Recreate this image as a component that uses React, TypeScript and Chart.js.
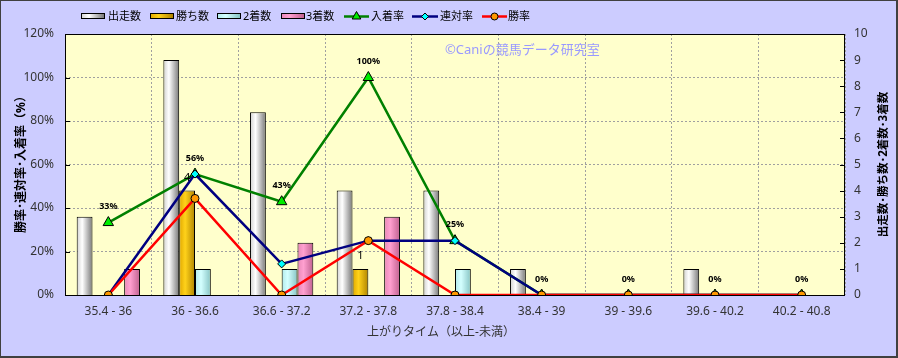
import { useEffect, useRef } from 'react';
import { Chart, registerables } from 'chart.js';

Chart.register(...registerables);

const categories = ['35.4 - 36', '36 - 36.6', '36.6 - 37.2', '37.2 - 37.8', '37.8 - 38.4', '38.4 - 39', '39 - 39.6', '39.6 - 40.2', '40.2 - 40.8'];
const starts = [3, 9, 7, 4, 4, 1, 0, 1, 0];
const wins = [0, 4, 0, 1, 0, 0, 0, 0, 0];
const seconds = [0, 1, 1, 0, 1, 0, 0, 0, 0];
const thirds = [1, 0, 2, 3, 0, 0, 0, 0, 0];
const placeRate = [33.3, 55.6, 42.9, 100, 25, 0, 0, 0, 0];
const quinellaRate = [0, 55.6, 14.3, 25, 25, 0, 0, 0, 0];
const winRate = [0, 44.4, 0, 25, 0, 0, 0, 0, 0];
const placeLabels = ['33%', '56%', '43%', '100%', '25%', '0%', '0%', '0%', '0%'];
const seriesNames = ['出走数', '勝ち数', '2着数', '3着数', '入着率', '連対率', '勝率'];

const FONT = "'Noto Sans', 'Noto Sans CJK JP', sans-serif";
const CAT_PCT = 0.73;

type Stops = [number, string][];
const barStops: Stops[] = [
  [[0, '#d0d0d0'], [0.35, '#ffffff'], [1, '#787878']],
  [[0, '#e0a800'], [0.38, '#ffd21a'], [1, '#b08400']],
  [[0, '#b0eaea'], [0.38, '#d4ffff'], [1, '#86c4c4']],
  [[0, '#e888b8'], [0.38, '#ffa0d0'], [1, '#c0608f']],
];

function makeGrad(ctx: CanvasRenderingContext2D, x0: number, x1: number, stops: Stops) {
  const g = ctx.createLinearGradient(x0, 0, x1, 0);
  stops.forEach(([o, c]) => g.addColorStop(o, c));
  return g;
}

function barBg(k: number) {
  return (c: any) => {
    const chart = c.chart;
    const xs = chart.scales && chart.scales.x;
    if (!xs || c.type !== 'data' || !xs.width) return barStops[k][1][1];
    const catW = xs.width / categories.length;
    const w = (catW * CAT_PCT) / 4;
    const cx = xs.getPixelForValue(c.dataIndex) + (c.datasetIndex - 1.5) * w;
    return makeGrad(chart.ctx, cx - w / 2, cx + w / 2, barStops[k]);
  };
}

function drawMarker(ctx: CanvasRenderingContext2D, style: string, x: number, y: number, r: number, fill: string) {
  ctx.save();
  ctx.beginPath();
  if (style === 'triangle') {
    ctx.moveTo(x, y - r);
    ctx.lineTo(x + r * 0.866, y + r * 0.5);
    ctx.lineTo(x - r * 0.866, y + r * 0.5);
    ctx.closePath();
  } else if (style === 'rectRot') {
    ctx.moveTo(x, y - r);
    ctx.lineTo(x + r, y);
    ctx.lineTo(x, y + r);
    ctx.lineTo(x - r, y);
    ctx.closePath();
  } else {
    ctx.arc(x, y, r, 0, Math.PI * 2);
  }
  ctx.fillStyle = fill;
  ctx.fill();
  ctx.lineWidth = 1;
  ctx.strokeStyle = '#000';
  ctx.stroke();
  ctx.restore();
}

const decorPlugin = {
  id: 'decor',
  beforeDraw(chart: any) {
    const { ctx, chartArea: a, width, height } = chart;
    ctx.save();
    ctx.fillStyle = '#ccccff';
    ctx.fillRect(0, 0, width, height);
    ctx.fillStyle = '#ffffcc';
    ctx.fillRect(a.left, a.top, a.right - a.left, a.bottom - a.top);
    ctx.restore();
  },
  beforeDatasetsDraw(chart: any) {
    const { ctx, chartArea: a, scales } = chart;
    ctx.save();
    ctx.strokeStyle = '#000';
    ctx.lineWidth = 1;
    ctx.strokeRect(Math.round(a.left) + 0.5, Math.round(a.top) + 0.5, Math.round(a.right - a.left) - 1, Math.round(a.bottom - a.top));
    ctx.beginPath();
    scales.y.ticks.forEach((t: any) => {
      const y = Math.round(scales.y.getPixelForValue(t.value)) + 0.5;
      ctx.moveTo(a.left, y);
      ctx.lineTo(a.left + 5, y);
    });
    scales.y1.ticks.forEach((t: any) => {
      const y = Math.round(scales.y1.getPixelForValue(t.value)) + 0.5;
      ctx.moveTo(a.right - 5, y);
      ctx.lineTo(a.right, y);
    });
    ctx.stroke();
    ctx.restore();
  },
  afterDatasetsDraw(chart: any) {
    const { ctx } = chart;
    ctx.save();
    const pm = chart.getDatasetMeta(4);
    ctx.fillStyle = '#000';
    ctx.textAlign = 'center';
    ctx.textBaseline = 'middle';
    ctx.font = `bold 9px ${FONT}`;
    pm.data.forEach((el: any, i: number) => {
      ctx.fillText(placeLabels[i], el.x, el.y - 16);
    });
    const wm = chart.getDatasetMeta(1);
    ctx.font = `11px ${FONT}`;
    wm.data.forEach((el: any, i: number) => {
      if (wins[i] > 0) ctx.fillText(String(wins[i]), el.x, el.y - 13);
    });
    ctx.fillStyle = '#9999ff';
    ctx.font = `13px ${FONT}`;
    ctx.textAlign = 'left';
    ctx.fillText('©Caniの競馬データ研究室', 445, 50);
    ctx.restore();
  },
  afterDraw(chart: any) {
    const { ctx, chartArea: a, width, height } = chart;
    ctx.save();
    const ly = 16.5;
    ctx.textBaseline = 'middle';
    ctx.textAlign = 'left';
    ctx.font = `11px ${FONT}`;
    const boxX = [81, 150, 217, 281];
    const textX = [108, 176, 243, 306];
    for (let k = 0; k < 4; k++) {
      const x = boxX[k];
      ctx.fillStyle = makeGrad(ctx, x, x + 23, barStops[k]);
      ctx.fillRect(x, 14, 23, 5);
      ctx.strokeStyle = '#000';
      ctx.lineWidth = 1;
      ctx.strokeRect(x + 0.5, 13.5, 23, 5);
      ctx.fillStyle = '#000';
      ctx.fillText(seriesNames[k], textX[k], ly);
    }
    const lines = [
      { x0: 344, x1: 369, c: '#008000', s: 'triangle', f: '#00ee00', r: 5, t: 371 },
      { x0: 412, x1: 438, c: '#000080', s: 'rectRot', f: '#00ffff', r: 3.5, t: 440 },
      { x0: 482, x1: 507, c: '#ff0000', s: 'circle', f: '#ff9900', r: 3.5, t: 508 },
    ];
    lines.forEach((l, j) => {
      ctx.strokeStyle = l.c;
      ctx.lineWidth = 2.5;
      ctx.beginPath();
      ctx.moveTo(l.x0, 16.5);
      ctx.lineTo(l.x1, 16.5);
      ctx.stroke();
      drawMarker(ctx, l.s, (l.x0 + l.x1) / 2, 16.5, l.r, l.f);
      ctx.fillStyle = '#000';
      ctx.fillText(seriesNames[4 + j], l.t, ly);
    });
    const cy = (a.top + a.bottom) / 2;
    ctx.fillStyle = '#000';
    ctx.textAlign = 'center';
    ctx.font = `bold 12px ${FONT}`;
    ctx.save();
    ctx.translate(22, cy - 3);
    ctx.rotate(-Math.PI / 2);
    ctx.fillText('勝率･連対率･入着率（%）', 0, 0);
    ctx.restore();
    ctx.font = `bold 11.5px ${FONT}`;
    ctx.save();
    ctx.translate(884, cy);
    ctx.rotate(-Math.PI / 2);
    ctx.fillText('出走数･勝ち数･2着数･3着数', 0, 0);
    ctx.restore();
    ctx.font = `12px ${FONT}`;
    ctx.fillStyle = '#333';
    ctx.fillText('上がりタイム（以上-未満）', 441, 333);
    ctx.fillStyle = '#404040';
    ctx.fillRect(0, 0, width, 1);
    ctx.fillRect(0, 0, 1, height);
    ctx.fillRect(width - 2, 0, 2, height);
    ctx.fillRect(0, height - 2, width, 2);
    ctx.restore();
  },
};

export default function App() {
  const ref = useRef<HTMLCanvasElement>(null);
  useEffect(() => {
    if (!ref.current) return;
    Chart.defaults.font.family = FONT;
    const nz = (arr: number[]) => arr.map((v) => (v === 0 ? null : v));
    const barDs = [starts, wins, seconds, thirds].map((d, k) => ({
      type: 'bar' as const,
      label: seriesNames[k],
      data: nz(d),
      yAxisID: 'y1',
      backgroundColor: barBg(k),
      borderColor: '#000',
      borderWidth: 1,
      borderSkipped: 'bottom' as const,
      categoryPercentage: CAT_PCT,
      barPercentage: 1,
      order: 10,
    }));
    const lineDs = [
      { label: seriesNames[4], data: placeRate, borderColor: '#008000', pointStyle: 'triangle', pointBackgroundColor: '#00ee00', pointRadius: 6, order: 3 },
      { label: seriesNames[5], data: quinellaRate, borderColor: '#000080', pointStyle: 'rectRot', pointBackgroundColor: '#00ffff', pointRadius: 4, order: 2 },
      { label: seriesNames[6], data: winRate, borderColor: '#ff0000', pointStyle: 'circle', pointBackgroundColor: '#ff9900', pointRadius: 4, order: 1 },
    ].map((d) => ({
      ...d,
      type: 'line' as const,
      yAxisID: 'y',
      borderWidth: 2.5,
      pointBorderColor: '#000',
      pointBorderWidth: 1,
      pointHoverRadius: d.pointRadius,
      tension: 0,
      fill: false,
    }));
    const chart = new Chart(ref.current, {
      type: 'bar',
      data: { labels: categories, datasets: [...barDs, ...lineDs] as any },
      options: {
        animation: false,
        responsive: false,
        devicePixelRatio: 1,
        events: [],
        layout: { padding: { top: 34, left: 0, right: 0, bottom: 0 } },
        plugins: { legend: { display: false }, tooltip: { enabled: false } },
        scales: {
          x: {
            type: 'category',
            offset: true,
            grid: { offset: true, color: '#a0a0a0', drawTicks: false },
            border: { display: false, dash: [2, 2] },
            ticks: { color: '#333', font: { size: 12, family: FONT }, padding: 9, maxRotation: 0, autoSkip: false },
            afterFit: (s: any) => { s.height = 63; },
          },
          y: {
            type: 'linear',
            position: 'left',
            min: 0,
            max: 120,
            ticks: { stepSize: 20, color: '#333', font: { size: 12, family: FONT }, padding: 11, callback: (v: any) => `${v}%` },
            grid: { color: '#a0a0a0', drawTicks: false },
            border: { display: false, dash: [2, 2] },
            afterFit: (s: any) => { s.width = 65; },
          },
          y1: {
            type: 'linear',
            position: 'right',
            min: 0,
            max: 10,
            ticks: { stepSize: 1, color: '#333', font: { size: 12, family: FONT }, padding: 9 },
            grid: { display: false, drawTicks: false },
            border: { display: false },
            afterFit: (s: any) => { s.width = 53; },
          },
        },
      } as any,
      plugins: [decorPlugin],
    });
    return () => chart.destroy();
  }, []);
  return (
    <div style={{ position: 'fixed', left: 0, top: 0, width: 898, height: 358 }}>
      <canvas ref={ref} width={898} height={358} style={{ display: 'block', width: 898, height: 358 }} />
    </div>
  );
}
